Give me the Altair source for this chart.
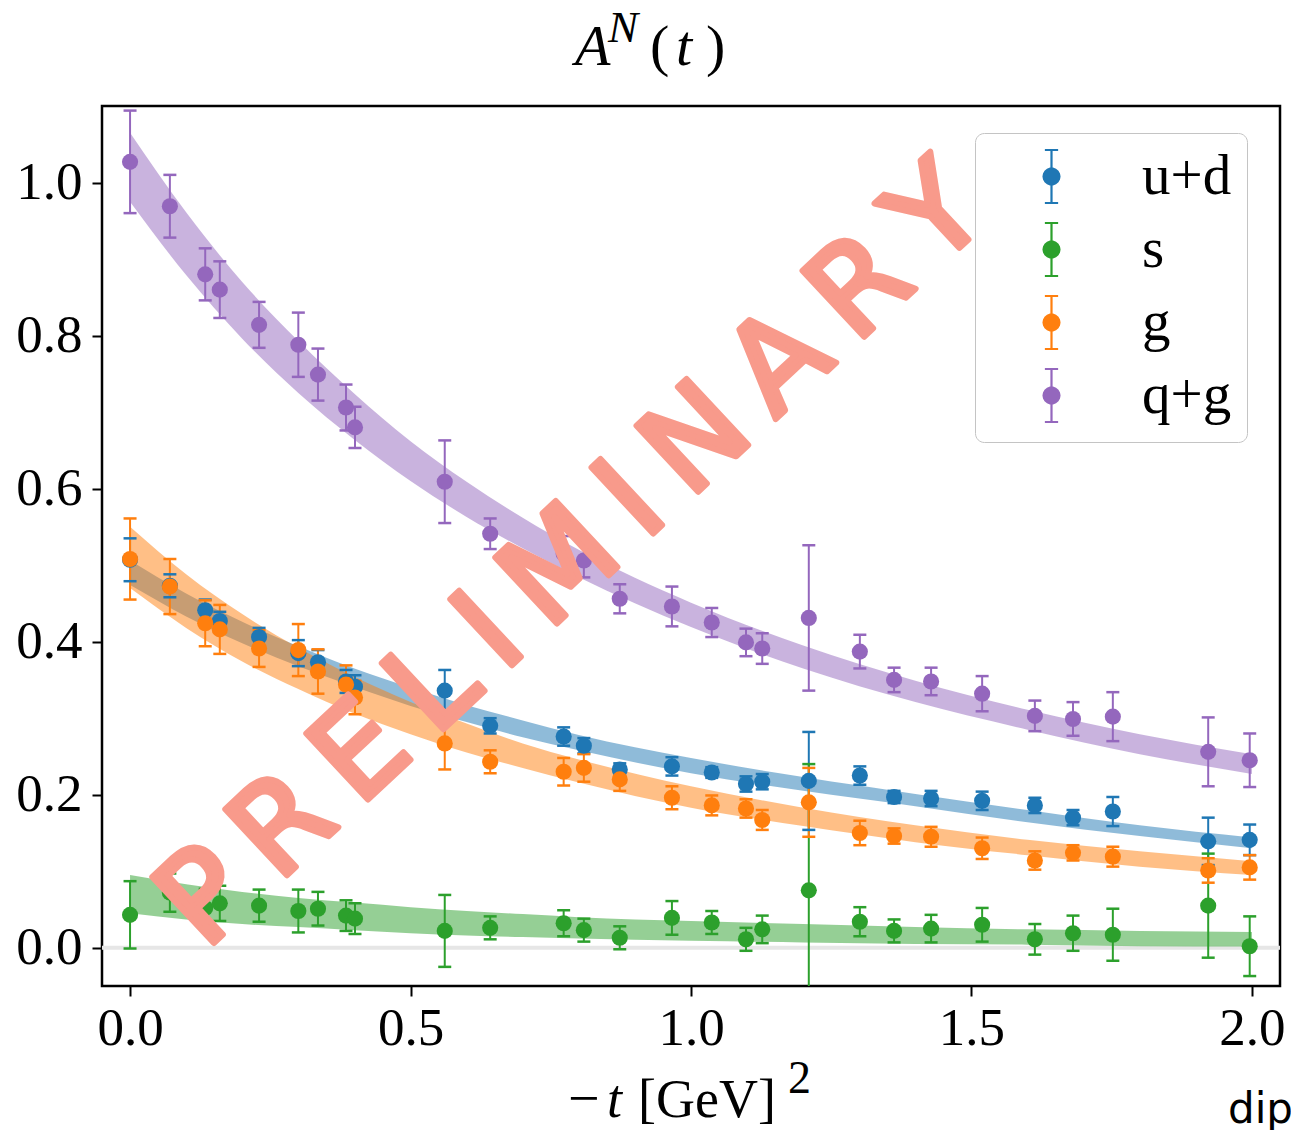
import math
import altair as alt
import pandas as pd

# ---------------- data ----------------
series_names = ["u+d", "s", "g", "q+g"]
series_colors = ["#1f77b4", "#2ca02c", "#ff7f0e", "#9467bd"]

t_pts = [0.0, 0.071, 0.134, 0.160, 0.230, 0.300, 0.335, 0.385, 0.401, 0.561,
         0.642, 0.773, 0.809, 0.873, 0.966, 1.037, 1.098, 1.127, 1.210, 1.301,
         1.362, 1.428, 1.519, 1.613, 1.681, 1.752, 1.922, 1.996]

ud_val = [0.507, 0.473, 0.441, 0.427, 0.406, 0.385, 0.373, 0.348, 0.341, 0.336,
          0.290, 0.276, 0.264, 0.233, 0.237, 0.229, 0.214, 0.217, 0.218, 0.225,
          0.197, 0.195, 0.192, 0.186, 0.170, 0.178, 0.139, 0.141]
ud_err = [0.028, 0.015, 0.014, 0.012, 0.012, 0.017, 0.016, 0.015, 0.015, 0.027,
          0.010, 0.012, 0.010, 0.008, 0.012, 0.007, 0.010, 0.010, 0.064, 0.012,
          0.008, 0.010, 0.012, 0.010, 0.010, 0.019, 0.031, 0.020]

s_val = [0.043, 0.072, 0.052, 0.058, 0.055, 0.048, 0.051, 0.042, 0.038, 0.022,
         0.026, 0.032, 0.023, 0.013, 0.039, 0.033, 0.011, 0.024, 0.075, 0.034,
         0.022, 0.025, 0.030, 0.011, 0.019, 0.017, 0.055, 0.002]
s_err = [0.044, 0.025, 0.025, 0.023, 0.021, 0.028, 0.022, 0.020, 0.020, 0.047,
         0.015, 0.017, 0.015, 0.015, 0.022, 0.015, 0.015, 0.018, 0.165, 0.019,
         0.015, 0.018, 0.022, 0.020, 0.023, 0.034, 0.068, 0.039]

g_val = [0.508, 0.472, 0.424, 0.416, 0.391, 0.389, 0.361, 0.344, 0.327, 0.267,
         0.243, 0.230, 0.235, 0.220, 0.196, 0.186, 0.182, 0.167, 0.190, 0.150,
         0.146, 0.145, 0.130, 0.114, 0.124, 0.119, 0.101, 0.105]
g_err = [0.053, 0.036, 0.030, 0.032, 0.024, 0.034, 0.029, 0.025, 0.022, 0.034,
         0.015, 0.018, 0.018, 0.015, 0.015, 0.013, 0.012, 0.013, 0.045, 0.016,
         0.010, 0.013, 0.014, 0.012, 0.010, 0.013, 0.016, 0.016]

qg_val = [1.027, 0.969, 0.880, 0.860, 0.814, 0.788, 0.749, 0.706, 0.680, 0.609,
          0.541, 0.515, 0.506, 0.456, 0.446, 0.425, 0.399, 0.391, 0.431, 0.387,
          0.350, 0.348, 0.332, 0.303, 0.299, 0.302, 0.256, 0.245]
qg_err = [0.067, 0.041, 0.034, 0.037, 0.030, 0.042, 0.034, 0.030, 0.027, 0.054,
          0.020, 0.023, 0.022, 0.019, 0.026, 0.019, 0.018, 0.020, 0.095, 0.022,
          0.016, 0.018, 0.023, 0.020, 0.022, 0.032, 0.045, 0.035]

# fit bands (dipole) at these -t values
band_t = [0.0, 0.1, 0.2, 0.3, 0.4, 0.5, 0.6, 0.7, 0.8, 1.0, 1.2, 1.4, 1.6, 1.8, 2.0]
ud_band_mid = [0.490, 0.448, 0.412, 0.381, 0.353, 0.328, 0.306, 0.286, 0.268, 0.238,
               0.214, 0.193, 0.172, 0.153, 0.137]
ud_band_half = [0.016, 0.015, 0.014, 0.013, 0.012, 0.012, 0.011, 0.011, 0.010, 0.010,
                0.009, 0.008, 0.008, 0.007, 0.007]
s_band_mid = [0.070, 0.060, 0.052, 0.046, 0.041, 0.036, 0.032, 0.029, 0.026, 0.022,
              0.019, 0.016, 0.014, 0.012, 0.011]
s_band_half = [0.025, 0.023, 0.021, 0.019, 0.018, 0.017, 0.016, 0.015, 0.014, 0.013,
               0.012, 0.011, 0.010, 0.010, 0.0095]
g_band_mid = [0.510, 0.453, 0.405, 0.365, 0.330, 0.300, 0.274, 0.251, 0.231, 0.197,
              0.171, 0.149, 0.131, 0.116, 0.104]
g_band_half = [0.040, 0.035, 0.031, 0.027, 0.024, 0.021, 0.019, 0.016, 0.015, 0.014,
               0.012, 0.011, 0.010, 0.010, 0.009]
qg_band_mid = [1.020, 0.920, 0.833, 0.759, 0.694, 0.636, 0.586, 0.542, 0.502, 0.435,
               0.380, 0.335, 0.298, 0.266, 0.240]
qg_band_half = [0.045, 0.041, 0.037, 0.034, 0.030, 0.026, 0.023, 0.020, 0.018, 0.016,
                0.015, 0.014, 0.013, 0.013, 0.013]

x_ticks = [0.0, 0.5, 1.0, 1.5, 2.0]
y_ticks = [0.0, 0.2, 0.4, 0.6, 0.8, 1.0]
x_domain = [-0.05, 2.05]
y_domain = [-0.05, 1.10]

watermark_text = ["\u2009".join("PRELIMINARY")]
watermark_x = [0.790]
watermark_y = [0.510]

# ---------------- tables ----------------
rows = []
for name, vals, errs in [("u+d", ud_val, ud_err), ("s", s_val, s_err),
                         ("g", g_val, g_err), ("q+g", qg_val, qg_err)]:
    for t, v, e in zip(t_pts, vals, errs):
        rows.append({"t": t, "v": v, "lo": v - e, "hi": v + e, "series": name})
pts = pd.DataFrame(rows)

brows = []
for name, mids, halfs in [("u+d", ud_band_mid, ud_band_half), ("s", s_band_mid, s_band_half),
                          ("g", g_band_mid, g_band_half), ("q+g", qg_band_mid, qg_band_half)]:
    for t, m, h in zip(band_t, mids, halfs):
        brows.append({"t": t, "blo": m - h, "bhi": m + h, "series": name})
bands_df = pd.DataFrame(brows)

wm_df = pd.DataFrame({"wx": watermark_x, "wy": watermark_y, "wt": watermark_text})
zero_df = pd.DataFrame({"zy": [0.0]})
one = pd.DataFrame({"a": [0]})

# ---------------- scales / axes ----------------
xs = alt.Scale(domain=x_domain, nice=False, zero=False)
ys = alt.Scale(domain=y_domain, nice=False, zero=False)
cs = alt.Scale(domain=series_names, range=series_colors)
xa = alt.Axis(values=x_ticks, format=".1f", title=None)
ya = alt.Axis(values=y_ticks, format=".1f", title=None)


# legend glyph: error bar with caps + a solid dot (concentric polygons, stroke only)
def polygon(r, n=18):
    pts_ = []
    for k in range(n):
        a = 2 * math.pi * k / n
        pts_.append(f"{r * math.cos(a):.3f},{r * math.sin(a):.3f}")
    return "M" + "L".join(pts_) + "Z"


sym_path = "M0,-1L0,1M-0.25,-1L0.25,-1M-0.25,1L0.25,1" + "".join(
    polygon(r) for r in [0.30, 0.25, 0.20, 0.15, 0.10, 0.05, 0.02])

leg = alt.Legend(title=None, orient="none", legendX=873, legendY=27,
                 symbolType=sym_path, symbolSize=2809, symbolStrokeWidth=2.2,
                 symbolOpacity=1,
                 labelFont="Liberation Serif", labelFontSize=57, labelColor="black",
                 labelOffset=62, symbolOffset=33, padding=15, rowPadding=10,
                 fillColor="white", strokeColor="#c4c4c4", cornerRadius=9)

base = alt.Chart(pts)

# invisible layer that only carries the legend (must come first)
legend_layer = base.mark_point(filled=False, opacity=0).encode(
    x=alt.X("t:Q", scale=xs, axis=xa),
    y=alt.Y("v:Q", scale=ys, axis=ya),
    color=alt.Color("series:N", scale=cs, legend=leg, sort=series_names),
)

zero_line = alt.Chart(zero_df).mark_rule(color="#e6e6e6", strokeWidth=4).encode(
    y=alt.Y("zy:Q", scale=ys, axis=ya))

bands = alt.Chart(bands_df).mark_area(opacity=0.5, interpolate="monotone", clip=True).encode(
    x=alt.X("t:Q", scale=xs, axis=xa),
    y=alt.Y("blo:Q", scale=ys, axis=ya),
    y2="bhi:Q",
    fill=alt.Fill("series:N", scale=cs, legend=None),
)

rules = base.mark_rule(strokeWidth=2, clip=True).encode(
    x=alt.X("t:Q", scale=xs, axis=xa),
    y=alt.Y("lo:Q", scale=ys, axis=ya),
    y2="hi:Q",
    stroke=alt.Stroke("series:N", scale=cs, legend=None),
)

cap_lo = base.mark_tick(orient="horizontal", size=13, thickness=2.5, opacity=1, clip=True).encode(
    x=alt.X("t:Q", scale=xs, axis=xa),
    y=alt.Y("lo:Q", scale=ys, axis=ya),
    fill=alt.Fill("series:N", scale=cs, legend=None),
)
cap_hi = base.mark_tick(orient="horizontal", size=13, thickness=2.5, opacity=1, clip=True).encode(
    x=alt.X("t:Q", scale=xs, axis=xa),
    y=alt.Y("hi:Q", scale=ys, axis=ya),
    fill=alt.Fill("series:N", scale=cs, legend=None),
)

points = base.mark_point(shape="circle", size=260, filled=True, opacity=1, clip=True).encode(
    x=alt.X("t:Q", scale=xs, axis=xa),
    y=alt.Y("v:Q", scale=ys, axis=ya),
    fill=alt.Fill("series:N", scale=cs, legend=None),
)

watermark = alt.Chart(wm_df).mark_text(
    angle=317, font="DejaVu Sans", fontSize=124, color="#f89a8b",
    stroke="#f89a8b", strokeWidth=6, strokeJoin="round", strokeCap="round",
    align="center", baseline="middle").encode(
    x=alt.X("wx:Q", scale=xs, axis=xa),
    y=alt.Y("wy:Q", scale=ys, axis=ya),
    text="wt:N",
)


def label(s, x, y, size, style="normal", font="Liberation Serif"):
    return alt.Chart(one).mark_text(
        text=s, font=font, fontSize=size, fontStyle=style, align="left",
        baseline="alphabetic", color="black").encode(x=alt.value(x), y=alt.value(y))


texts = [
    label("A", 473, -41, 58, "italic"),
    label("N", 506, -64, 45, "italic"),
    label("(", 548, -41, 58),
    label("t", 574, -41, 58, "italic"),
    label(")", 604, -41, 58),
    label("\u2212", 466, 1011, 56),
    label("t", 505, 1011, 54, "italic"),
    label("[GeV]", 536, 1011, 54),
    label("2", 686, 987, 46),
    label("dipole", 1126, 1017, 42, font="DejaVu Sans"),
]

chart = alt.layer(legend_layer, zero_line, bands, rules, cap_lo, cap_hi, points, watermark,
                  *texts).properties(
    width=1178, height=880,
    padding={"left": 102, "top": 106, "right": 11, "bottom": 144},
    autosize=alt.AutoSizeParams(type="none"),
).configure_view(
    stroke="black", strokeWidth=2.5
).configure_axis(
    domain=False, grid=False, ticks=True, tickColor="black", tickWidth=2, tickSize=10,
    labelFont="Liberation Serif", labelFontSize=53, labelColor="black"
).configure_axisX(labelPadding=6).configure_axisY(labelPadding=10)

chart.save("out.html", embed_options={"renderer": "svg", "actions": False})
